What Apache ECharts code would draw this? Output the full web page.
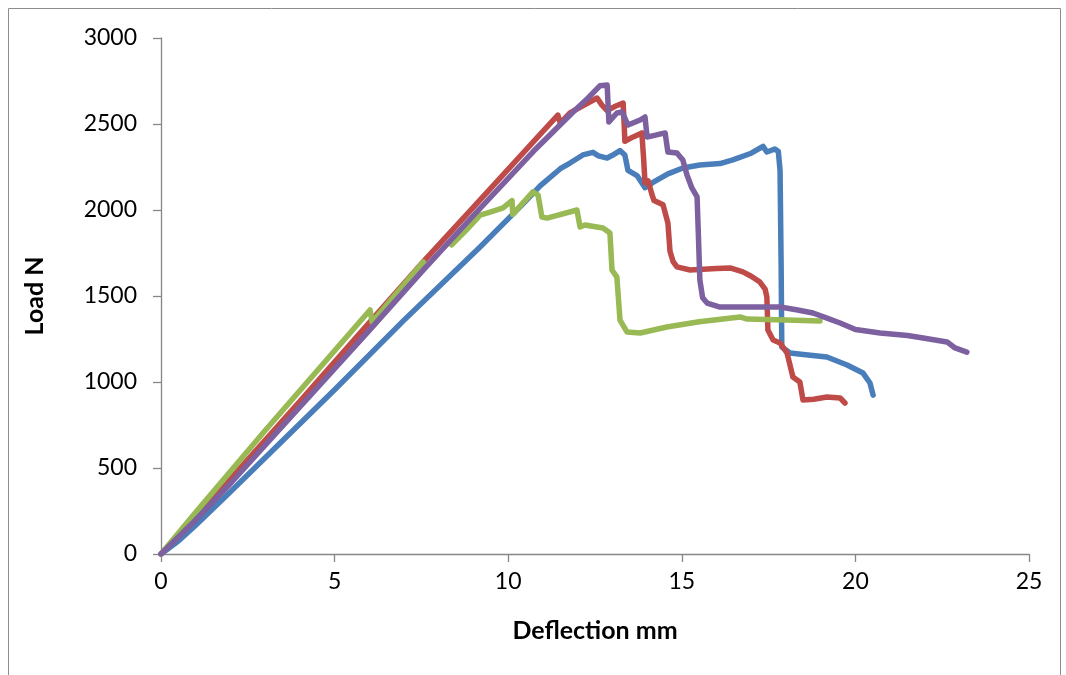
<!DOCTYPE html>
<html>
<head>
<meta charset="utf-8">
<script src="https://cdn.jsdelivr.net/npm/echarts@6/dist/echarts.min.js"></script>
<style>
  html, body { margin: 0; padding: 0; background: #ffffff; }
  #chart { width: 1066px; height: 675px; }
</style>
</head>
<body>
<div id="chart"></div>
<script>
// Load–deflection curves of four specimens, [deflection mm, load N]
const specimen1 = [
  [0, 0], [0.5, 75], [1, 168], [2, 362], [3, 560], [5, 955], [7, 1360],
  [9.19, 1785], [10.4, 2030], [10.92, 2140], [11.5, 2240], [11.78, 2273],
  [12.15, 2320], [12.44, 2335], [12.6, 2315], [12.85, 2302], [13.0, 2318],
  [13.22, 2345], [13.36, 2320], [13.45, 2230], [13.71, 2200], [13.94, 2130],
  [14.17, 2160], [14.6, 2210], [15.03, 2244], [15.52, 2262], [16.1, 2270],
  [16.47, 2291], [17.0, 2330], [17.34, 2370], [17.45, 2337], [17.68, 2355],
  [17.78, 2340], [17.83, 2230], [17.86, 1700], [17.88, 1203], [18.12, 1168],
  [18.5, 1160], [19.18, 1145], [19.76, 1099], [20.22, 1052], [20.42, 994],
  [20.51, 924]
];
const specimen2 = [
  [0, 0], [2, 436], [4, 888], [6, 1345], [7.55, 1698], [9, 2017],
  [10.34, 2312], [10.92, 2440], [11.43, 2552], [11.5, 2505], [11.78, 2565],
  [12.2, 2612], [12.56, 2651], [12.7, 2610], [12.85, 2578], [13.05, 2600],
  [13.31, 2622], [13.34, 2500], [13.36, 2400], [13.6, 2425], [13.85, 2448],
  [13.9, 2300], [13.94, 2160], [14.03, 2170], [14.14, 2090], [14.2, 2055],
  [14.46, 2030], [14.6, 1924], [14.66, 1760], [14.75, 1700], [14.86, 1669],
  [15.24, 1651], [16.0, 1660], [16.39, 1663], [16.76, 1640], [17.0, 1615],
  [17.25, 1581], [17.4, 1540], [17.45, 1494], [17.48, 1302], [17.63, 1244],
  [17.83, 1227], [18.03, 1169], [18.06, 1145], [18.2, 1029], [18.4, 1000],
  [18.49, 895], [18.8, 900], [19.18, 913], [19.56, 907], [19.7, 878]
];
const specimen3 = [
  [0, 0], [1, 242], [3, 718], [6.02, 1419], [6.08, 1349],
  [7.55, 1698], [8.0, '-'], [8.37, 1797], [8.8, 1885], [9.19, 1970],
  [9.48, 1988], [9.85, 2012], [10.11, 2055], [10.13, 1975], [10.71, 2105],
  [10.86, 2087], [10.97, 1959], [11.12, 1953], [11.98, 2000], [12.07, 1901],
  [12.21, 1913], [12.73, 1895], [12.93, 1866], [12.99, 1651], [13.13, 1610],
  [13.22, 1360], [13.42, 1291], [13.8, 1285], [14.57, 1320], [15.5, 1350],
  [16.68, 1378], [16.88, 1366], [18.0, 1360], [18.98, 1355]
];
const specimen4 = [
  [0, 0], [1, 198], [2, 410], [4, 855], [6, 1300], [7.55, 1650], [9, 1968],
  [10.72, 2340], [11.87, 2570], [12.3, 2651], [12.64, 2722], [12.85, 2727],
  [12.9, 2512], [13.13, 2564], [13.28, 2570], [13.45, 2494], [13.8, 2523],
  [13.94, 2541], [14.0, 2424], [14.52, 2448], [14.6, 2337], [14.86, 2331],
  [15.03, 2291], [15.15, 2203], [15.29, 2128], [15.44, 2076], [15.47, 1901],
  [15.52, 1593], [15.6, 1490], [15.73, 1459], [16.1, 1436], [17.0, 1436],
  [17.83, 1436], [18.3, 1420], [18.78, 1401], [19.2, 1370], [19.56, 1343],
  [20.0, 1305], [20.71, 1285], [21.5, 1270], [21.95, 1256], [22.64, 1233],
  [22.87, 1198], [23.21, 1174]
];

const seriesNames = ['Specimen 1', 'Specimen 2', 'Specimen 3', 'Specimen 4'];
const seriesColors = ['#4A7EBB', '#BE4B48', '#98B954', '#7D60A0'];
const seriesData = [specimen1, specimen2, specimen3, specimen4];

const xTitle = 'Deflection mm';
const yTitle = 'Load N';

const axisGrey = '#868686';
const fontFamily = 'Lato, "Open Sans", sans-serif';

const chart = echarts.init(document.getElementById('chart'));
chart.setOption({
  backgroundColor: '#ffffff',
  animation: false,
  graphic: [{
    type: 'rect',
    shape: { x: 8.5, y: 8.5, width: 1052, height: 680 },
    style: { fill: 'none', stroke: '#8c8c8c', lineWidth: 1 },
    silent: true
  }],
  grid: { left: 161, top: 38, right: 37, bottom: 121 },
  xAxis: {
    type: 'value', min: 0, max: 25, interval: 5,
    name: xTitle, nameLocation: 'middle', nameGap: 64,
    nameTextStyle: { fontFamily, fontSize: 25, fontWeight: 'bold', color: '#000' },
    axisLine: { show: true, onZero: false, lineStyle: { color: axisGrey, width: 1.3 } },
    axisTick: { show: true, inside: false, length: 8, lineStyle: { color: axisGrey, width: 1.3 } },
    axisLabel: { fontFamily, fontSize: 23, color: '#000', margin: 16 },
    splitLine: { show: false }
  },
  yAxis: {
    type: 'value', min: 0, max: 3000, interval: 500,
    name: yTitle, nameLocation: 'middle', nameGap: 114, nameRotate: 90,
    nameTextStyle: { fontFamily, fontSize: 25, fontWeight: 'bold', color: '#000' },
    axisLine: { show: true, onZero: false, lineStyle: { color: axisGrey, width: 1.3 } },
    axisTick: { show: true, inside: false, length: 8, lineStyle: { color: axisGrey, width: 1.3 } },
    axisLabel: { fontFamily, fontSize: 23, color: '#000', margin: 24, formatter: v => String(v) },
    splitLine: { show: false }
  },
  series: seriesData.map((d, i) => ({
    name: seriesNames[i],
    type: 'line',
    data: d,
    showSymbol: false,
    symbol: 'none',
    connectNulls: false,
    lineStyle: { color: seriesColors[i], width: 5.5, cap: 'round', join: 'round' },
    itemStyle: { color: seriesColors[i] },
    z: 2 + i
  }))
});
</script>
</body>
</html>
